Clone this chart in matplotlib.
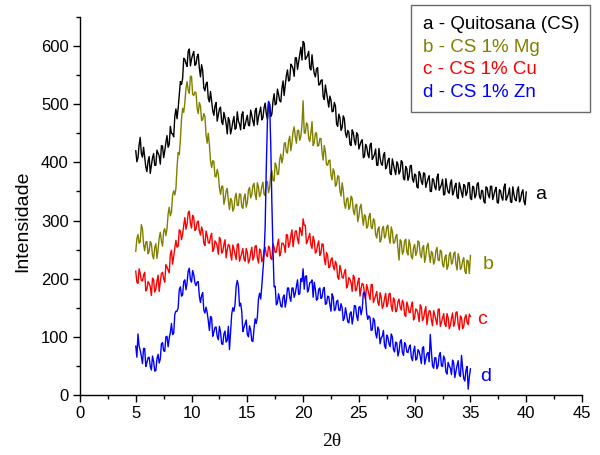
import numpy as np
import matplotlib
matplotlib.use('Agg')
import matplotlib.pyplot as plt
from matplotlib.ticker import MultipleLocator
from matplotlib.lines import Line2D

plt.rcParams['font.family'] = ['Liberation Sans', 'DejaVu Sans']

# 2theta grid: readings every 0.2 deg starting at 5 deg, plus readings midway (0.1 deg offsets)
start_2theta = 5.0
step_2theta = 0.2

# a - Quitosana (CS), 5.0, 5.2, ... 40.0
int_a = [
    420, 408, 443, 409, 409, 384, 410, 395, 415, 395,
    416, 397, 428, 420, 446, 431, 450, 444, 492, 493,
    539, 544, 577, 565, 595, 578, 591, 569, 586, 547,
    558, 523, 538, 504, 506, 481, 503, 482, 495, 465,
    477, 449, 472, 458, 479, 459, 471, 456, 487, 464,
    481, 463, 481, 463, 493, 478, 495, 477, 502, 474,
    500, 483, 518, 501, 517, 504, 540, 533, 559, 542,
    566, 548, 580, 573, 598, 608, 577, 584, 562, 585,
    553, 561, 533, 541, 513, 533, 507, 514, 487, 503,
    466, 483, 455, 480, 450, 455, 431, 456, 437, 451,
    423, 436, 408, 431, 414, 430, 405, 414, 395, 424,
    398, 412, 389, 403, 381, 406, 387, 401, 380, 403,
    372, 393, 369, 394, 372, 380, 358, 384, 367, 382,
    357, 372, 350, 372, 358, 374, 352, 362, 344, 372,
    349, 364, 344, 359, 341, 365, 348, 362, 343, 365,
    338, 359, 339, 363, 342, 352, 333, 358, 344, 359,
    336, 352, 331, 353, 340, 357, 335, 346, 332, 358,
    336, 352, 332, 348, 333, 349,
]
# a, midway readings 5.1, 5.3, ... 39.9
int_a_mid = [
    401, 430, 415, 426, 392, 402, 381, 408, 395, 421,
    411, 429, 408, 434, 426, 462, 449, 479, 475, 516,
    534, 579, 570, 591, 566, 585, 567, 582, 562, 568,
    528, 535, 510, 522, 489, 497, 471, 492, 470, 486,
    467, 477, 449, 470, 457, 487, 466, 482, 458, 473,
    464, 490, 471, 489, 465, 487, 473, 494, 484, 503,
    479, 505, 499, 526, 506, 527, 515, 549, 540, 569,
    561, 580, 560, 587, 576, 605, 580, 591, 559, 565,
    547, 563, 534, 542, 508, 520, 495, 507, 488, 497,
    462, 477, 460, 475, 443, 452, 429, 451, 430, 448,
    430, 439, 410, 427, 408, 433, 409, 423, 395, 407,
    395, 417, 393, 407, 379, 396, 379, 397, 385, 400,
    370, 389, 376, 395, 366, 378, 356, 380, 362, 381,
    365, 377, 350, 370, 353, 380, 357, 371, 345, 358,
    347, 370, 349, 364, 338, 357, 340, 360, 348, 365,
    336, 357, 344, 365, 337, 351, 330, 356, 339, 359,
    344, 357, 330, 351, 335, 363, 340, 356, 331, 345,
    334, 358, 337, 353, 327,
]

# b - CS 1% Mg, 5.0 ... 35.0
int_b = [
    247, 276, 263, 286, 248, 264, 247, 260, 234, 260,
    250, 280, 256, 286, 286, 323, 314, 351, 355, 417,
    439, 493, 503, 539, 519, 548, 515, 520, 484, 497,
    474, 479, 433, 431, 391, 402, 375, 380, 345, 359,
    337, 355, 319, 335, 321, 347, 326, 345, 321, 346,
    331, 357, 344, 364, 336, 358, 346, 366, 343, 367,
    357, 386, 368, 394, 380, 414, 409, 434, 416, 445,
    434, 461, 433, 455, 445, 506, 450, 465, 436, 470,
    434, 451, 429, 441, 404, 418, 395, 404, 370, 383,
    362, 376, 342, 352, 321, 339, 324, 338, 310, 328,
    308, 328, 292, 307, 290, 312, 286, 300, 270, 289,
    267, 290, 274, 292, 261, 281, 262, 276, 232, 264,
    247, 268, 241, 258, 234, 259, 246, 262, 236, 257,
    239, 261, 228, 244, 230, 254, 231, 247, 220, 241,
    222, 245, 228, 246, 215, 235, 219, 236, 209, 230,
    240,
]
int_b_mid = [
    269, 261, 293, 259, 263, 243, 264, 240, 254, 235,
    270, 265, 282, 274, 311, 308, 343, 344, 392, 413,
    474, 486, 527, 524, 548, 517, 521, 493, 503, 472,
    484, 448, 450, 403, 403, 376, 388, 356, 359, 328,
    351, 334, 338, 316, 340, 326, 346, 324, 339, 323,
    352, 339, 360, 345, 365, 341, 359, 345, 367, 348,
    379, 369, 399, 379, 404, 399, 432, 418, 437, 420,
    453, 444, 455, 438, 465, 451, 468, 441, 451, 429,
    450, 428, 441, 417, 429, 396, 403, 378, 389, 359,
    377, 351, 365, 329, 337, 319, 342, 317, 326, 298,
    323, 307, 310, 287, 307, 289, 303, 276, 285, 263,
    286, 270, 289, 271, 289, 261, 272, 252, 267, 242,
    265, 246, 267, 238, 253, 240, 265, 242, 253, 228,
    255, 241, 247, 225, 248, 232, 249, 224, 236, 216,
    241, 225, 243, 225, 243, 216, 231, 213, 232, 209,
]

# c - CS 1% Cu, 5.0 ... 35.0
int_c = [
    213, 192, 209, 196, 211, 182, 192, 171, 198, 182,
    206, 195, 211, 194, 220, 210, 249, 238, 266, 256,
    282, 276, 305, 294, 316, 287, 305, 285, 299, 275,
    282, 257, 274, 261, 278, 251, 262, 242, 267, 247,
    267, 249, 257, 232, 251, 233, 260, 237, 252, 230,
    245, 232, 254, 238, 257, 227, 248, 234, 254, 238,
    253, 233, 254, 246, 268, 245, 261, 245, 275, 260,
    284, 270, 282, 260, 282, 303, 292, 265, 278, 252,
    265, 247, 265, 244, 259, 224, 240, 221, 236, 215,
    224, 199, 214, 201, 216, 188, 199, 178, 202, 182,
    201, 183, 190, 165, 182, 164, 190, 165, 178, 154,
    168, 154, 175, 157, 175, 144, 163, 146, 165, 146,
    158, 135, 153, 142, 160, 134, 146, 126, 151, 132,
    152, 135, 144, 119, 138, 121, 148, 125, 140, 118,
    133, 119, 141, 124, 143, 112, 133, 118, 138, 121,
    135,
]
int_c_mid = [
    194, 217, 197, 206, 179, 195, 186, 201, 177, 196,
    178, 209, 200, 224, 215, 242, 225, 252, 254, 284,
    267, 292, 285, 313, 295, 309, 283, 297, 282, 289,
    261, 282, 262, 272, 247, 265, 256, 271, 244, 259,
    236, 259, 242, 258, 242, 259, 230, 244, 234, 252,
    227, 245, 232, 256, 236, 251, 229, 249, 241, 256,
    235, 260, 245, 259, 239, 261, 257, 276, 254, 274,
    255, 282, 268, 288, 274, 292, 260, 271, 258, 273,
    244, 258, 240, 260, 235, 245, 219, 233, 221, 230,
    203, 223, 202, 211, 184, 202, 193, 206, 179, 194,
    170, 192, 175, 190, 173, 190, 159, 171, 159, 176,
    149, 166, 152, 174, 153, 167, 143, 160, 151, 163,
    138, 160, 142, 153, 129, 148, 140, 155, 128, 144,
    121, 145, 129, 145, 129, 147, 118, 132, 122, 140,
    114, 132, 118, 142, 121, 136, 114, 133, 125, 139,
]

# d - CS 1% Zn, 5.0 ... 35.0
int_d = [
    84, 105, 77, 54, 80, 56, 65, 43, 58, 42,
    70, 62, 90, 75, 101, 98, 123, 106, 144, 150,
    186, 172, 198, 193, 218, 194, 207, 188, 195, 159,
    176, 141, 142, 111, 133, 108, 117, 95, 108, 87,
    110, 94, 78, 139, 144, 187, 188, 158, 109, 122,
    104, 119, 93, 114, 123, 165, 165, 214, 290, 470,
    500, 330, 186, 155, 174, 153, 168, 151, 184, 168,
    184, 168, 187, 173, 200, 217, 204, 177, 193, 198,
    194, 163, 182, 166, 182, 156, 170, 155, 174, 145,
    161, 146, 157, 128, 150, 126, 140, 122, 154, 136,
    151, 138, 175, 165, 130, 133, 112, 128, 98, 112,
    98, 111, 80, 99, 83, 100, 74, 89, 75, 95,
    68, 86, 73, 86, 59, 84, 62, 75, 54, 83,
    62, 73, 104, 50, 64, 45, 68, 50, 67, 40,
    56, 46, 60, 30, 51, 35, 68, 28, 43, 10,
    45,
]
int_d_mid = [
    65, 84, 67, 80, 49, 64, 49, 67, 41, 62,
    55, 88, 76, 100, 83, 107, 104, 139, 144, 181,
    170, 195, 181, 213, 198, 214, 193, 194, 170, 171,
    146, 151, 128, 135, 101, 116, 101, 118, 88, 105,
    91, 118, 109, 150, 156, 197, 153, 144, 116, 129,
    100, 112, 92, 131, 134, 175, 188, 240, 390, 505,
    430, 250, 187, 158, 165, 151, 172, 163, 184, 161,
    184, 175, 198, 174, 195, 182, 205, 182, 194, 168,
    182, 165, 184, 168, 185, 157, 169, 144, 168, 147,
    163, 145, 150, 132, 139, 124, 143, 134, 153, 128,
    152, 148, 177, 140, 136, 111, 132, 106, 117, 88,
    101, 85, 103, 88, 105, 78, 91, 67, 92, 73,
    90, 74, 82, 65, 75, 60, 78, 66, 81, 53,
    71, 57, 75, 46, 64, 50, 73, 49, 62, 36,
    50, 35, 55, 41, 59, 32, 46, 24, 49, 31,
]

series_labels = ['a - Quitosana (CS)', 'b - CS 1% Mg', 'c - CS 1% Cu', 'd - CS 1% Zn']
end_letters = ['a', 'b', 'c', 'd']
colors = ['#000000', '#808000', '#ff0000', '#0000ff']
series = [(int_a, int_a_mid), (int_b, int_b_mid), (int_c, int_c_mid), (int_d, int_d_mid)]

fig = plt.figure(figsize=(6.0, 4.55), dpi=100)
ax = fig.add_axes([0.1333, 0.1319, 0.8367, 0.8307])

for (main, mid), col in zip(series, colors):
    main = np.asarray(main, dtype=float)
    mid = np.asarray(mid, dtype=float)
    y = np.empty(len(main) + len(mid))
    y[0::2] = main
    y[1::2] = mid
    x = start_2theta + (step_2theta / 2) * np.arange(len(y))
    ax.plot(x, y, color=col, lw=1.0)

# letters at the end of each curve
letter_pos = [(41.3, 345), (36.6, 224), (36.0, 129), (36.4, 31)]
for (lx, ly), t, col in zip(letter_pos, end_letters, colors):
    ax.text(lx, ly, t, color=col, fontsize=14, ha='center', va='center')

ax.set_xlim(0, 45)
ax.set_ylim(0, 650)
ax.xaxis.set_major_locator(MultipleLocator(5))
ax.xaxis.set_minor_locator(MultipleLocator(2.5))
ax.yaxis.set_major_locator(MultipleLocator(100))
ax.yaxis.set_minor_locator(MultipleLocator(50))
ax.tick_params(which='major', direction='out', length=5, width=1, labelsize=12, pad=3)
ax.tick_params(which='minor', direction='out', length=3, width=1)
for s in ['top', 'right']:
    ax.spines[s].set_visible(False)
for s in ['left', 'bottom']:
    ax.spines[s].set_linewidth(1.0)

ax.set_xlabel('2θ', fontsize=14, family=['Liberation Serif', 'DejaVu Serif'])
ax.xaxis.set_label_coords(0.502, -0.10)
ax.set_ylabel('Intensidade', fontsize=14)
ax.yaxis.set_label_coords(-0.098, 0.46)

handles = [Line2D([], [], color=c, lw=0) for c in colors]
leg = fig.legend(handles, series_labels, loc='upper right', bbox_to_anchor=(0.984, 0.99),
                 fontsize=13.5, handlelength=0, handletextpad=0, labelcolor=colors,
                 frameon=True, fancybox=False, edgecolor='#444444', borderpad=0.6,
                 labelspacing=0.3, borderaxespad=0)
leg.get_frame().set_linewidth(1.0)

fig.savefig('out.png', dpi=100)
